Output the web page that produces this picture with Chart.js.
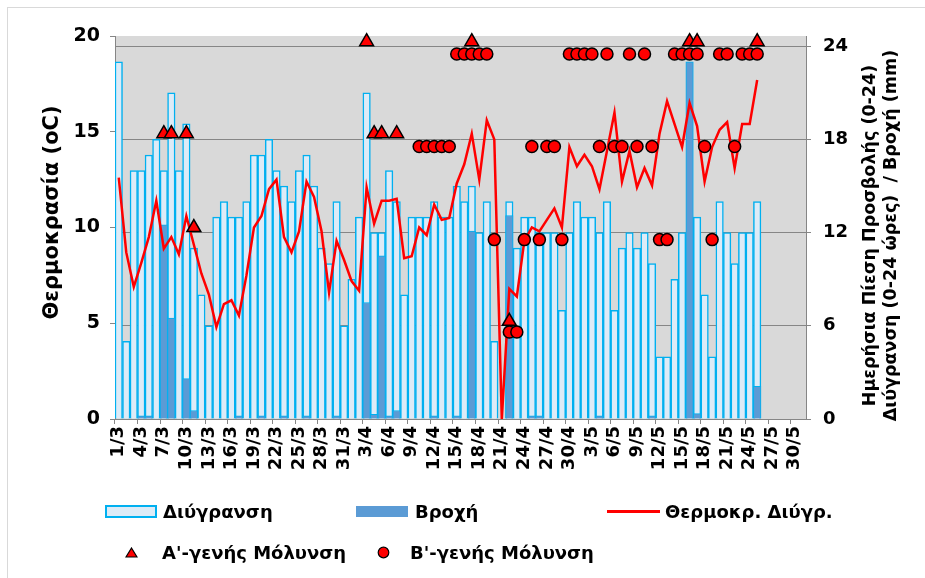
<!DOCTYPE html>
<html>
<head>
<meta charset="utf-8">
<script src="https://cdn.jsdelivr.net/npm/chart.js@4.4.0/dist/chart.umd.min.js"></script>
<style>
  html, body { margin:0; padding:0; background:#fff; }
  #wrap { position:relative; width:925px; height:578px; overflow:hidden;
          font-family:"DejaVu Sans", sans-serif; font-weight:bold; color:#000; }
  #frame { position:absolute; left:7px; top:7px; width:1000px; height:1000px; border:1px solid #d9d9d9; }
  canvas { position:absolute; left:0; top:0; }
  .lg { position:absolute; font-size:18px; line-height:20px; white-space:nowrap; }
  .sw { position:absolute; box-sizing:border-box; }
</style>
</head>
<body>
<div id="wrap">
  <div id="frame"></div>
  <canvas id="chart" width="925" height="578"></canvas>

  <!-- legend -->
  <div class="sw" style="left:105px;top:505px;width:52px;height:13px;background:#ddebf7;border:2px solid #00b0f0;"></div>
  <div class="lg" style="left:163px;top:502px;">Διύγρανση</div>
  <div class="sw" style="left:356px;top:506px;width:52px;height:11px;background:#5b9bd5;"></div>
  <div class="lg" style="left:415px;top:502px;">Βροχή</div>
  <div class="sw" style="left:607px;top:510px;width:53px;height:3px;background:#ff0000;"></div>
  <div class="lg" style="left:665px;top:502px;">Θερμοκρ. Διύγρ.</div>

  <svg class="sw" style="left:125px;top:547px;" width="13" height="11"><polygon points="6.5,1 12,10 1,10" fill="#ff0000" stroke="#000" stroke-width="1.2"/></svg>
  <div class="lg" style="left:162px;top:543px;">Α'-γενής Μόλυνση</div>
  <svg class="sw" style="left:377px;top:546px;" width="13" height="13"><circle cx="6.5" cy="6.5" r="5.3" fill="#ff0000" stroke="#000" stroke-width="1.2"/></svg>
  <div class="lg" style="left:410px;top:543px;">Β'-γενής Μόλυνση</div>
</div>

<script>
// ημέρες 1/3 - 31/5
const dates = [
  '1/3','2/3','3/3','4/3','5/3','6/3','7/3','8/3','9/3','10/3',
  '11/3','12/3','13/3','14/3','15/3','16/3','17/3','18/3','19/3','20/3',
  '21/3','22/3','23/3','24/3','25/3','26/3','27/3','28/3','29/3','30/3','31/3',
  '1/4','2/4','3/4','4/4','5/4','6/4','7/4','8/4','9/4','10/4',
  '11/4','12/4','13/4','14/4','15/4','16/4','17/4','18/4','19/4','20/4',
  '21/4','22/4','23/4','24/4','25/4','26/4','27/4','28/4','29/4','30/4',
  '1/5','2/5','3/5','4/5','5/5','6/5','7/5','8/5','9/5','10/5',
  '11/5','12/5','13/5','14/5','15/5','16/5','17/5','18/5','19/5','20/5',
  '21/5','22/5','23/5','24/5','25/5','26/5','27/5','28/5','29/5','30/5','31/5'
];

// Διύγρανση (ώρες, δεξί άξονας)
const wetHours = [
  23,5,16,16,17,18,16,21,16,19,
  11,8,6,13,14,13,13,14,17,17,
  18,16,15,14,16,17,15,11,10,14,
  6,9,13,21,12,12,16,14,8,13,
  13,13,14,13,13,15,14,15,12,14,
  5,null,14,11,13,13,12,12,12,7,
  12,14,13,13,12,14,7,11,12,11,
  12,10,4,4,9,12,12,13,8,4,
  14,12,10,12,12,14,null,null,null,null,
  null,null
];

// Βροχή (mm, δεξί άξονας)
const rainMm = [
  null,null,null,0.2,0.2,null,12.5,6.5,null,2.6,
  0.55,null,null,null,null,null,0.2,null,null,0.2,
  null,null,0.2,null,null,0.2,null,null,null,0.2,
  null,null,null,7.5,0.3,10.5,0.2,0.55,null,null,
  null,null,0.2,null,null,0.2,null,12.1,null,null,
  null,null,13.1,null,null,0.2,0.2,null,null,null,
  null,null,null,null,0.2,null,null,null,null,null,
  null,0.2,null,null,null,null,23,0.35,null,null,
  null,null,null,null,null,2.1,null,null,null,null,
  null,null
];

// Θερμοκρασία διύγρανσης (oC, αριστερός άξονας)
const wetTemp = [
  12.6,8.7,6.9,8.15,9.5,11.4,8.9,9.5,8.6,10.6,
  9.1,7.6,6.5,4.8,6.0,6.2,5.4,7.5,10.0,10.6,
  12.0,12.5,9.5,8.7,9.8,12.4,11.6,9.8,6.6,9.3,
  8.3,7.2,6.7,12.1,10.2,11.4,11.4,11.5,8.4,8.5,
  10.0,9.6,11.2,10.4,10.5,12.3,13.3,14.9,12.5,15.6,
  14.6,0,6.8,6.4,9.3,10.0,9.8,10.4,11.0,10.0,
  14.2,13.2,13.8,13.2,12.0,14.0,16.0,12.4,14.0,12.1,
  13.1,12.2,14.9,16.6,15.4,14.2,16.5,15.3,12.4,14.2,
  15.1,15.5,13.1,15.4,15.4,17.7,null,null,null,null,
  null,null
];

// Α'-γενής μόλυνση (αριστερός άξονας)
const aDays  = ['3/4','17/4','16/5','17/5','25/5','7/3','8/3','10/3','4/4','5/4','7/4','11/3','22/4'];
const aLevel = [19.7,19.7,19.7,19.7,19.7,14.9,14.9,14.9,14.9,14.9,14.9,10.0,5.1];

// Β'-γενής μόλυνση (δεξί άξονας)
const bDays = [
  '15/4','16/4','17/4','18/4','19/4','30/4','1/5','2/5','3/5','5/5','8/5','10/5',
  '14/5','15/5','16/5','17/5','20/5','21/5','23/5','24/5','25/5',
  '10/4','11/4','12/4','13/4','14/4','25/4','27/4','28/4','4/5','6/5','7/5','9/5','11/5','18/5','22/5',
  '20/4','24/4','26/4','29/4','12/5','13/5','19/5',
  '22/4','23/4'
];
const bLevel = [
  23.5,23.5,23.5,23.5,23.5,23.5,23.5,23.5,23.5,23.5,23.5,23.5,
  23.5,23.5,23.5,23.5,23.5,23.5,23.5,23.5,23.5,
  17.55,17.55,17.55,17.55,17.55,17.55,17.55,17.55,17.55,17.55,17.55,17.55,17.55,17.55,17.55,
  11.55,11.55,11.55,11.55,11.55,11.55,11.55,
  5.6,5.6
];

const leftTicks  = [0, 5, 10, 15, 20];
const rightTicks = [0, 6, 12, 18, 24];
const rightMax   = 24.66;

const leftTitle  = 'Θερμοκρασία (oC)';
const rightTitle = ['Ημερήσια Πίεση Προσβολής (0-24)', 'Διύγρανση (0-24 ώρες)  / Βροχή (mm)'];

const FONT = '"DejaVu Sans", sans-serif';
const AXIS = '#868686';

// γκρι φόντο περιοχής σχεδίασης
const plotBg = {
  id: 'plotBg',
  beforeDraw(chart) {
    const {ctx, chartArea: a} = chart;
    ctx.save();
    ctx.fillStyle = '#d9d9d9';
    ctx.fillRect(a.left, a.top, a.right - a.left, a.bottom - a.top);
    ctx.restore();
  }
};

// τίτλοι αξόνων (ο δεξής διαβάζεται από κάτω προς τα πάνω)
const axisTitles = {
  id: 'axisTitles',
  afterDraw(chart) {
    const {ctx, chartArea: a} = chart;
    ctx.save();
    ctx.fillStyle = '#000';
    ctx.textAlign = 'center';
    ctx.textBaseline = 'middle';
    ctx.font = 'bold 21px ' + FONT;
    ctx.translate(a.left - 62, (a.top + a.bottom) / 2 - 15);
    ctx.rotate(-Math.PI / 2);
    ctx.fillText(leftTitle, 0, 0);
    ctx.restore();

    ctx.save();
    ctx.fillStyle = '#000';
    ctx.textAlign = 'center';
    ctx.textBaseline = 'middle';
    ctx.font = 'bold 17.5px ' + FONT;
    ctx.translate(a.right + 64, (a.top + a.bottom) / 2 + 8);
    ctx.rotate(-Math.PI / 2);
    ctx.fillText(rightTitle[0], 0, 0);
    ctx.fillText(rightTitle[1], 0, 21);
    ctx.restore();
  }
};

Chart.defaults.font.family = FONT;
Chart.defaults.font.weight = 'bold';
Chart.defaults.color = '#000';

new Chart(document.getElementById('chart'), {
  data: {
    labels: dates,
    datasets: [
      {
        type: 'line', label: "Β'-γενής Μόλυνση", yAxisID: 'y2', order: 0,
        data: bDays.map((d, k) => ({x: d, y: bLevel[k]})),
        showLine: false, clip: false,
        pointStyle: 'circle', pointRadius: 6, pointHoverRadius: 6,
        pointBackgroundColor: '#ff0000', pointBorderColor: '#000', pointBorderWidth: 1.5
      },
      {
        type: 'line', label: "Α'-γενής Μόλυνση", yAxisID: 'y', order: 1,
        data: aDays.map((d, k) => ({x: d, y: aLevel[k]})),
        showLine: false, clip: false,
        pointStyle: 'triangle', pointRadius: 8, pointHoverRadius: 8,
        pointBackgroundColor: '#ff0000', pointBorderColor: '#000', pointBorderWidth: 1.5
      },
      {
        type: 'line', label: 'Θερμοκρ. Διύγρ.', yAxisID: 'y', order: 2,
        data: wetTemp, borderColor: '#ff0000', borderWidth: 2.5,
        pointRadius: 0, tension: 0, spanGaps: false
      },
      {
        type: 'bar', label: 'Βροχή', yAxisID: 'y2', order: 3,
        data: rainMm, grouped: false,
        backgroundColor: '#5b9bd5', borderColor: '#00b0f0', borderWidth: 1,
        categoryPercentage: 1, barPercentage: 1
      },
      {
        type: 'bar', label: 'Διύγρανση', yAxisID: 'y2', order: 4,
        data: wetHours, grouped: false,
        backgroundColor: '#ddebf7', borderColor: '#00b0f0', borderWidth: 1.5,
        categoryPercentage: 1, barPercentage: 1
      }
    ]
  },
  options: {
    responsive: false,
    animation: false,
    layout: { padding: { left: 0, right: 0, top: 36, bottom: 0 } },
    plugins: { legend: { display: false }, tooltip: { enabled: false } },
    scales: {
      x: {
        type: 'category', offset: true,
        afterFit: s => { s.height = 159; },
        border: { display: true, color: AXIS, width: 1 },
        grid: {
          offset: true, drawOnChartArea: false, tickLength: 5,
          color: c => c.index % 3 === 0 ? AXIS : 'rgba(0,0,0,0)'
        },
        ticks: {
          autoSkip: false, minRotation: 90, maxRotation: 90, padding: 2,
          font: { size: 18, weight: 'bold' },
          callback: (v, i) => i % 3 === 0 ? dates[i] : ''
        }
      },
      y: {
        position: 'left', min: 0, max: 20,
        afterFit: s => { s.width = 115; },
        afterBuildTicks: s => { s.ticks = leftTicks.map(v => ({value: v})); },
        border: { display: true, color: AXIS, width: 1 },
        grid: { drawOnChartArea: false, tickLength: 5, color: AXIS },
        ticks: { padding: 10, font: { size: 19, weight: 'bold' } }
      },
      y2: {
        position: 'right', min: 0, max: rightMax,
        afterFit: s => { s.width = 119; },
        afterBuildTicks: s => { s.ticks = rightTicks.map(v => ({value: v})); },
        border: { display: true, color: AXIS, width: 1 },
        grid: { drawOnChartArea: true, tickLength: 5, color: AXIS, lineWidth: 1 },
        ticks: { padding: 12, font: { size: 18, weight: 'bold' } }
      }
    }
  },
  plugins: [plotBg, axisTitles]
});
</script>
</body>
</html>
